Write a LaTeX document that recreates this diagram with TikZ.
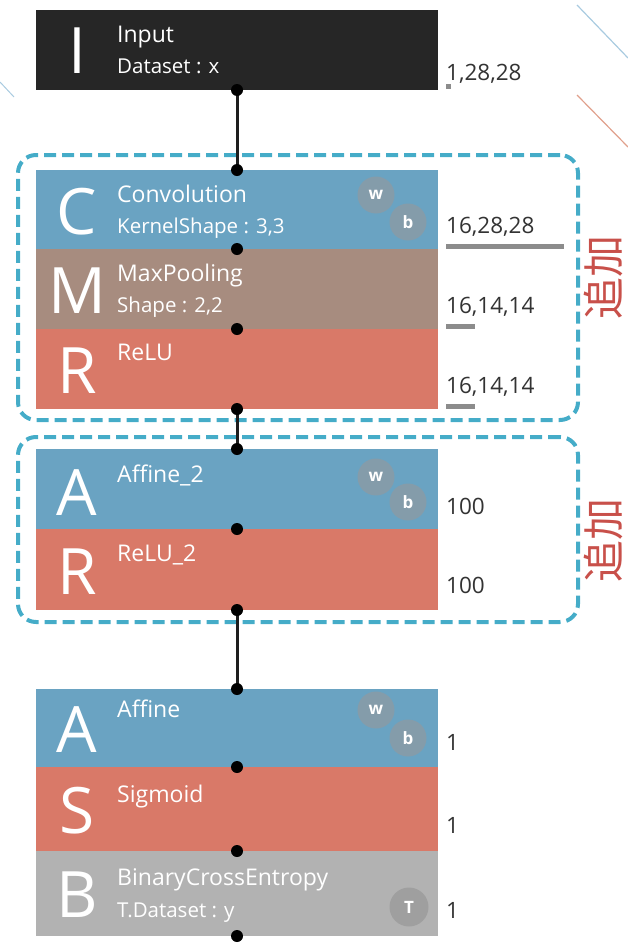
\documentclass[tikz,border=0pt]{standalone}
\usepackage{fontspec}
\setmainfont{Open Sans}
\newfontfamily\cjk{Noto Sans CJK JP}
\definecolor{inpc}{HTML}{262626}
\definecolor{convc}{HTML}{6AA3C2}
\definecolor{mpc}{HTML}{A78C7F}
\definecolor{reluc}{HTML}{D97968}
\definecolor{bcec}{HTML}{B2B2B2}
\definecolor{grpc}{HTML}{45ACC8}
\definecolor{parc}{HTML}{8E9AA3}
\definecolor{tc}{HTML}{999999}
\definecolor{lblc}{HTML}{333333}
\definecolor{barc}{HTML}{8C8C8C}
\definecolor{linec}{HTML}{1E1E1E}
\definecolor{addc}{HTML}{C8504A}
\definecolor{decb}{HTML}{A9CBE0}
\definecolor{deco}{HTML}{E0A08C}
\begin{document}
\begin{tikzpicture}[x=1pt,y=-1pt,
  seg/.style={draw=none, minimum width=402pt, inner sep=0, outer sep=0, anchor=north west},
  big/.style={anchor=base, text=white, font=\fontsize{64}{64}\selectfont, inner sep=0},
  ttl/.style={anchor=base west, text=white, font=\fontsize{23}{23}\selectfont, inner sep=0},
  sub/.style={anchor=base west, text=white, font=\fontsize{20.5}{20.5}\selectfont, inner sep=0},
  lbl/.style={anchor=base west, text=lblc, font=\fontsize{22.5}{22.5}\selectfont, inner sep=0},
  bar/.style={fill=barc, inner sep=0, minimum height=5pt, anchor=south west},
  dot/.style={circle, fill=black, minimum size=12pt, inner sep=0},
  conn/.style={line width=3pt, draw=linec},
  grp/.style={draw=grpc, line width=4pt, dash pattern=on 12pt off 6pt, rounded corners=18pt, minimum width=560pt, anchor=north west, inner sep=0},
  par/.style={circle, fill=parc, fill opacity=0.75, minimum size=37pt, inner sep=0, text=white, text opacity=1, font=\bfseries\fontsize{17}{17}\selectfont},
  addtxt/.style={text=addc, font=\cjk\fontsize{42}{42}\selectfont, rotate=90, inner sep=0}
]
\useasboundingbox (0,0) rectangle (628,945);
% decorative lines
\draw[decb, line width=1pt] (0,82) -- (14,97);
\draw[decb, line width=1.2pt] (577,5) -- (628,58);
\draw[deco, line width=1.2pt] (577,95) -- (628,147);
% groups
\node[grp, minimum height=265pt] (g1) at (16,153) {};
\node[grp, minimum height=185pt] (g2) at (16,435) {};
% segments
\node[seg, fill=inpc, minimum height=80pt] (inp) at (36,10) {};
\node[seg, fill=convc, minimum height=79pt] (conv) at (36,170) {};
\node[seg, fill=mpc, minimum height=80pt] (mp) at (36,249) {};
\node[seg, fill=reluc, minimum height=80pt] (relu) at (36,329) {};
\node[seg, fill=convc, minimum height=80pt] (aff2) at (36,449) {};
\node[seg, fill=reluc, minimum height=81pt] (relu2) at (36,529) {};
\node[seg, fill=convc, minimum height=78pt] (aff) at (36,689) {};
\node[seg, fill=reluc, minimum height=84pt] (sig) at (36,767) {};
\node[seg, fill=bcec, minimum height=85pt] (bce) at (36,851) {};
% connectors
\draw[conn] (inp.south) -- (conv.north);
\draw[conn] (relu.south) -- (aff2.north);
\draw[conn] (relu2.south) -- (aff.north);
% big letters
\node[big] (inpL) at (77,73) {I};
\node[big] (convL) at (77,234) {C};
\node[big] (mpL) at (77,313) {M};
\node[big] (reluL) at (77,393) {R};
\node[big] (aff2L) at (77,515) {A};
\node[big] (relu2L) at (77,594) {R};
\node[big] (affL) at (77,752) {A};
\node[big] (sigL) at (77,833) {S};
\node[big] (bceL) at (77,917) {B};
% titles
\node[ttl] (inpT) at (117,42) {Input};
\node[sub] (inpS) at (117,73) {Dataset : x};
\node[ttl] (convT) at (117,202) {Convolution};
\node[sub] (convS) at (117,233) {KernelShape : 3,3};
\node[ttl] (mpT) at (117,281) {MaxPooling};
\node[sub] (mpS) at (117,312) {Shape : 2,2};
\node[ttl] (reluT) at (117,360) {ReLU};
\node[ttl] (aff2T) at (117,482) {Affine\_2};
\node[ttl] (relu2T) at (117,561) {ReLU\_2};
\node[ttl] (affT) at (117,717) {Affine};
\node[ttl] (sigT) at (117,802) {Sigmoid};
\node[ttl] (bceT) at (117,885) {BinaryCrossEntropy};
\node[sub] (bceS) at (117,917) {T.Dataset : y};
% parameter circles
\node[par] (convW) at (376,195) {w};
\node[par] (convB) at (408,222) {b};
\node[par] (aff2W) at (376,477) {w};
\node[par] (aff2B) at (408,502) {b};
\node[par] (affW) at (376,710) {w};
\node[par] (affB) at (408,738) {b};
\node[par, fill=tc, minimum size=39pt] (bceT2) at (409,907) {T};
% dots
\node[dot] (d1) at (inp.south) {};
\node[dot] (d2) at (conv.north) {};
\node[dot] (d3) at (conv.south) {};
\node[dot] (d4) at (mp.south) {};
\node[dot] (d5) at (relu.south) {};
\node[dot] (d6) at (aff2.north) {};
\node[dot] (d7) at (aff2.south) {};
\node[dot] (d8) at (relu2.south) {};
\node[dot] (d9) at (aff.north) {};
\node[dot] (d10) at (aff.south) {};
\node[dot] (d11) at (sig.south) {};
\node[dot] (d12) at (bce.south) {};
% size labels
\node[lbl] (l1) at (446,80) {1,28,28};
\node[bar, minimum width=5pt] (b1) at (446,89) {};
\node[lbl] (l2) at (446,233) {16,28,28};
\node[bar, minimum width=118pt] (b2) at (446,249) {};
\node[lbl] (l3) at (446,313) {16,14,14};
\node[bar, minimum width=29pt] (b3) at (446,329) {};
\node[lbl] (l4) at (446,393) {16,14,14};
\node[bar, minimum width=29pt] (b4) at (446,409) {};
\node[lbl] (l5) at (446,514) {100};
\node[lbl] (l6) at (446,593) {100};
\node[lbl] (l7) at (446,750) {1};
\node[lbl] (l8) at (446,833) {1};
\node[lbl] (l9) at (446,918) {1};
% additions
\node[addtxt] (a1) at (603,277) {追加};
\node[addtxt] (a2) at (603,540) {追加};
\end{tikzpicture}
\end{document}
